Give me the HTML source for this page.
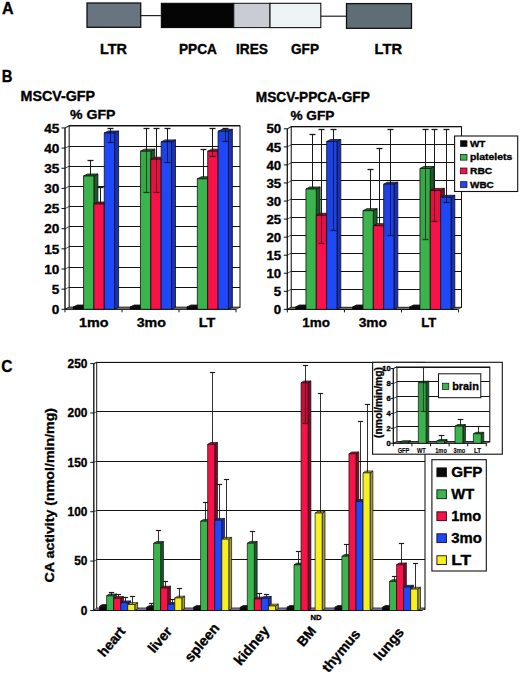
<!DOCTYPE html>
<html><head><meta charset="utf-8"><title>Figure</title>
<style>
html,body{margin:0;padding:0;background:#fff;}
body{width:520px;height:674px;overflow:hidden;}
svg{display:block;}
text{font-family:"Liberation Sans", sans-serif;stroke:#000;stroke-width:0.35px;}
</style></head>
<body>
<svg width="520" height="674" viewBox="0 0 520 674" font-family='"Liberation Sans", sans-serif'>
<rect x="0" y="0" width="520" height="674" fill="#ffffff"/>
<text x="2" y="14.3" font-size="16.5" font-weight="bold" fill="#000" textLength="11.6" lengthAdjust="spacingAndGlyphs">A</text>
<line x1="140.7" y1="15.6" x2="160.8" y2="15.6" stroke="#222" stroke-width="1.2"/>
<line x1="320.8" y1="16.2" x2="346" y2="16.2" stroke="#222" stroke-width="1.2"/>
<rect x="87" y="3" width="53.7" height="24.3" fill="#68747f" stroke="#111" stroke-width="1.3"/>
<rect x="161.3" y="3.3" width="72.5" height="24.3" fill="#050505" stroke="#000" stroke-width="1"/>
<rect x="233.8" y="3.3" width="36.2" height="24.3" fill="#c9cdd3" stroke="#111" stroke-width="1"/>
<rect x="270" y="3.3" width="50.8" height="24.3" fill="#eef3f6" stroke="#111" stroke-width="1.1"/>
<rect x="346.5" y="3.6" width="65" height="24.7" fill="#5f6e75" stroke="#111" stroke-width="1.3"/>
<text x="100" y="54.2" font-size="14" font-weight="bold" fill="#000" textLength="27" lengthAdjust="spacingAndGlyphs">LTR</text>
<text x="179" y="54.2" font-size="14" font-weight="bold" fill="#000" textLength="38" lengthAdjust="spacingAndGlyphs">PPCA</text>
<text x="236" y="54.2" font-size="14" font-weight="bold" fill="#000" textLength="32" lengthAdjust="spacingAndGlyphs">IRES</text>
<text x="291" y="54.2" font-size="14" font-weight="bold" fill="#000" textLength="28" lengthAdjust="spacingAndGlyphs">GFP</text>
<text x="374.6" y="54.2" font-size="14" font-weight="bold" fill="#000" textLength="27.4" lengthAdjust="spacingAndGlyphs">LTR</text>
<text x="1.7" y="81.7" font-size="17" font-weight="bold" fill="#000" textLength="10.7" lengthAdjust="spacingAndGlyphs">B</text>
<text x="20.5" y="101" font-size="14" font-weight="bold" fill="#000" textLength="74.5" lengthAdjust="spacingAndGlyphs">MSCV-GFP</text>
<text x="70" y="119" font-size="13.5" font-weight="bold" fill="#000" textLength="45.5" lengthAdjust="spacingAndGlyphs">% GFP</text>
<text x="255.8" y="101.5" font-size="14" font-weight="bold" fill="#000" textLength="114" lengthAdjust="spacingAndGlyphs">MSCV-PPCA-GFP</text>
<text x="290.4" y="119.5" font-size="13.5" font-weight="bold" fill="#000" textLength="44" lengthAdjust="spacingAndGlyphs">% GFP</text>
<rect x="69" y="125.95" width="171" height="181.35" fill="#ffffff" stroke="#111" stroke-width="1.05"/>
<polygon points="65,127.95 69,125.95 69,307.3 65,309.3" fill="#ffffff" stroke="#111" stroke-width="0.7" stroke-linejoin="round"/>
<line x1="69" y1="307.5" x2="240" y2="307.5" stroke="#111" stroke-width="1.05"/>
<line x1="65" y1="309.3" x2="69" y2="307.3" stroke="#111" stroke-width="0.7"/>
<line x1="61.5" y1="309.3" x2="65" y2="309.3" stroke="#111" stroke-width="1"/>
<text x="59.3" y="313.98" font-size="13" font-weight="bold" fill="#000" text-anchor="end" textLength="7.55" lengthAdjust="spacingAndGlyphs">0</text>
<line x1="69" y1="287.5" x2="240" y2="287.5" stroke="#111" stroke-width="1.05"/>
<line x1="65" y1="289.15" x2="69" y2="287.15" stroke="#111" stroke-width="0.7"/>
<line x1="61.5" y1="289.15" x2="65" y2="289.15" stroke="#111" stroke-width="1"/>
<text x="59.3" y="293.83" font-size="13" font-weight="bold" fill="#000" text-anchor="end" textLength="7.55" lengthAdjust="spacingAndGlyphs">5</text>
<line x1="69" y1="267.5" x2="240" y2="267.5" stroke="#111" stroke-width="1.05"/>
<line x1="65" y1="269" x2="69" y2="267" stroke="#111" stroke-width="0.7"/>
<line x1="61.5" y1="269" x2="65" y2="269" stroke="#111" stroke-width="1"/>
<text x="59.3" y="273.68" font-size="13" font-weight="bold" fill="#000" text-anchor="end" textLength="15.1" lengthAdjust="spacingAndGlyphs">10</text>
<line x1="69" y1="246.5" x2="240" y2="246.5" stroke="#111" stroke-width="1.05"/>
<line x1="65" y1="248.85" x2="69" y2="246.85" stroke="#111" stroke-width="0.7"/>
<line x1="61.5" y1="248.85" x2="65" y2="248.85" stroke="#111" stroke-width="1"/>
<text x="59.3" y="253.53" font-size="13" font-weight="bold" fill="#000" text-anchor="end" textLength="15.1" lengthAdjust="spacingAndGlyphs">15</text>
<line x1="69" y1="226.5" x2="240" y2="226.5" stroke="#111" stroke-width="1.05"/>
<line x1="65" y1="228.7" x2="69" y2="226.7" stroke="#111" stroke-width="0.7"/>
<line x1="61.5" y1="228.7" x2="65" y2="228.7" stroke="#111" stroke-width="1"/>
<text x="59.3" y="233.38" font-size="13" font-weight="bold" fill="#000" text-anchor="end" textLength="15.1" lengthAdjust="spacingAndGlyphs">20</text>
<line x1="69" y1="206.5" x2="240" y2="206.5" stroke="#111" stroke-width="1.05"/>
<line x1="65" y1="208.55" x2="69" y2="206.55" stroke="#111" stroke-width="0.7"/>
<line x1="61.5" y1="208.55" x2="65" y2="208.55" stroke="#111" stroke-width="1"/>
<text x="59.3" y="213.23" font-size="13" font-weight="bold" fill="#000" text-anchor="end" textLength="15.1" lengthAdjust="spacingAndGlyphs">25</text>
<line x1="69" y1="186.5" x2="240" y2="186.5" stroke="#111" stroke-width="1.05"/>
<line x1="65" y1="188.4" x2="69" y2="186.4" stroke="#111" stroke-width="0.7"/>
<line x1="61.5" y1="188.4" x2="65" y2="188.4" stroke="#111" stroke-width="1"/>
<text x="59.3" y="193.08" font-size="13" font-weight="bold" fill="#000" text-anchor="end" textLength="15.1" lengthAdjust="spacingAndGlyphs">30</text>
<line x1="69" y1="166.5" x2="240" y2="166.5" stroke="#111" stroke-width="1.05"/>
<line x1="65" y1="168.25" x2="69" y2="166.25" stroke="#111" stroke-width="0.7"/>
<line x1="61.5" y1="168.25" x2="65" y2="168.25" stroke="#111" stroke-width="1"/>
<text x="59.3" y="172.93" font-size="13" font-weight="bold" fill="#000" text-anchor="end" textLength="15.1" lengthAdjust="spacingAndGlyphs">35</text>
<line x1="69" y1="146.5" x2="240" y2="146.5" stroke="#111" stroke-width="1.05"/>
<line x1="65" y1="148.1" x2="69" y2="146.1" stroke="#111" stroke-width="0.7"/>
<line x1="61.5" y1="148.1" x2="65" y2="148.1" stroke="#111" stroke-width="1"/>
<text x="59.3" y="152.78" font-size="13" font-weight="bold" fill="#000" text-anchor="end" textLength="15.1" lengthAdjust="spacingAndGlyphs">40</text>
<line x1="69" y1="125.5" x2="240" y2="125.5" stroke="#111" stroke-width="1.05"/>
<line x1="65" y1="127.95" x2="69" y2="125.95" stroke="#111" stroke-width="0.7"/>
<line x1="61.5" y1="127.95" x2="65" y2="127.95" stroke="#111" stroke-width="1"/>
<text x="59.3" y="132.63" font-size="13" font-weight="bold" fill="#000" text-anchor="end" textLength="15.1" lengthAdjust="spacingAndGlyphs">45</text>
<polygon points="65,309.3 69,307.3 240,307.3 236,309.3" fill="#9a9a9a" stroke="#222" stroke-width="0.7" stroke-linejoin="round"/>
<line x1="65" y1="127.95" x2="65" y2="309.3" stroke="#111" stroke-width="1.1"/>
<line x1="65" y1="309.3" x2="236" y2="309.3" stroke="#111" stroke-width="1.1"/>
<line x1="65" y1="309.3" x2="65" y2="312.3" stroke="#111" stroke-width="1"/>
<line x1="122" y1="309.3" x2="122" y2="312.3" stroke="#111" stroke-width="1"/>
<line x1="179" y1="309.3" x2="179" y2="312.3" stroke="#111" stroke-width="1"/>
<line x1="236" y1="309.3" x2="236" y2="312.3" stroke="#111" stroke-width="1"/>
<polygon points="83.55,307 87.55,305 87.55,307.3 83.55,309.3" fill="#000000" stroke="#101010" stroke-width="0.8" stroke-linejoin="round"/>
<polygon points="73.2,307 77.2,305 87.55,305 83.55,307" fill="#111111" stroke="#101010" stroke-width="0.8" stroke-linejoin="round"/>
<polygon points="73.2,307 83.55,307 83.55,309.3 73.2,309.3" fill="#0a0a0a" stroke="#101010" stroke-width="0.8" stroke-linejoin="round"/>
<polygon points="93.9,176 97.9,174 97.9,307.3 93.9,309.3" fill="#1d5a28" stroke="#101010" stroke-width="0.8" stroke-linejoin="round"/>
<polygon points="83.55,176 87.55,174 97.9,174 93.9,176" fill="#247030" stroke="#101010" stroke-width="0.8" stroke-linejoin="round"/>
<polygon points="83.55,176 93.9,176 93.9,309.3 83.55,309.3" fill="#3cb44e" stroke="#101010" stroke-width="0.8" stroke-linejoin="round"/>
<polygon points="104.25,204 108.25,202 108.25,307.3 104.25,309.3" fill="#800c28" stroke="#101010" stroke-width="0.8" stroke-linejoin="round"/>
<polygon points="93.9,204 97.9,202 108.25,202 104.25,204" fill="#c0103a" stroke="#101010" stroke-width="0.8" stroke-linejoin="round"/>
<polygon points="93.9,204 104.25,204 104.25,309.3 93.9,309.3" fill="#f81249" stroke="#101010" stroke-width="0.8" stroke-linejoin="round"/>
<polygon points="114.6,133 118.6,131 118.6,307.3 114.6,309.3" fill="#1830bc" stroke="#101010" stroke-width="0.8" stroke-linejoin="round"/>
<polygon points="104.25,133 108.25,131 118.6,131 114.6,133" fill="#1a3ad0" stroke="#101010" stroke-width="0.8" stroke-linejoin="round"/>
<polygon points="104.25,133 114.6,133 114.6,309.3 104.25,309.3" fill="#1f48f8" stroke="#101010" stroke-width="0.8" stroke-linejoin="round"/>
<line x1="90.5" y1="160.5" x2="90.5" y2="175" stroke="#1a1a1a" stroke-width="1"/>
<line x1="87.5" y1="160.5" x2="93.5" y2="160.5" stroke="#1a1a1a" stroke-width="1.3"/>
<line x1="100.5" y1="187.5" x2="100.5" y2="203" stroke="#1a1a1a" stroke-width="1"/>
<line x1="97.5" y1="187.5" x2="103.5" y2="187.5" stroke="#1a1a1a" stroke-width="1.3"/>
<rect x="104.75" y="133.5" width="9.35" height="9.5" fill="#000" fill-opacity="0.07"/>
<line x1="110.5" y1="128.5" x2="110.5" y2="132" stroke="#1a1a1a" stroke-width="1"/>
<line x1="110.5" y1="132" x2="110.5" y2="142.5" stroke="#000" stroke-opacity="0.55" stroke-width="1"/>
<line x1="107.5" y1="142.5" x2="113.5" y2="142.5" stroke="#000" stroke-opacity="0.6" stroke-width="1.3"/>
<line x1="107.5" y1="128.5" x2="113.5" y2="128.5" stroke="#1a1a1a" stroke-width="1.3"/>
<polygon points="140.45,307 144.45,305 144.45,307.3 140.45,309.3" fill="#000000" stroke="#101010" stroke-width="0.8" stroke-linejoin="round"/>
<polygon points="130.1,307 134.1,305 144.45,305 140.45,307" fill="#111111" stroke="#101010" stroke-width="0.8" stroke-linejoin="round"/>
<polygon points="130.1,307 140.45,307 140.45,309.3 130.1,309.3" fill="#0a0a0a" stroke="#101010" stroke-width="0.8" stroke-linejoin="round"/>
<polygon points="150.8,151.2 154.8,149.2 154.8,307.3 150.8,309.3" fill="#1d5a28" stroke="#101010" stroke-width="0.8" stroke-linejoin="round"/>
<polygon points="140.45,151.2 144.45,149.2 154.8,149.2 150.8,151.2" fill="#247030" stroke="#101010" stroke-width="0.8" stroke-linejoin="round"/>
<polygon points="140.45,151.2 150.8,151.2 150.8,309.3 140.45,309.3" fill="#3cb44e" stroke="#101010" stroke-width="0.8" stroke-linejoin="round"/>
<polygon points="161.15,159.2 165.15,157.2 165.15,307.3 161.15,309.3" fill="#800c28" stroke="#101010" stroke-width="0.8" stroke-linejoin="round"/>
<polygon points="150.8,159.2 154.8,157.2 165.15,157.2 161.15,159.2" fill="#c0103a" stroke="#101010" stroke-width="0.8" stroke-linejoin="round"/>
<polygon points="150.8,159.2 161.15,159.2 161.15,309.3 150.8,309.3" fill="#f81249" stroke="#101010" stroke-width="0.8" stroke-linejoin="round"/>
<polygon points="171.5,141.9 175.5,139.9 175.5,307.3 171.5,309.3" fill="#1830bc" stroke="#101010" stroke-width="0.8" stroke-linejoin="round"/>
<polygon points="161.15,141.9 165.15,139.9 175.5,139.9 171.5,141.9" fill="#1a3ad0" stroke="#101010" stroke-width="0.8" stroke-linejoin="round"/>
<polygon points="161.15,141.9 171.5,141.9 171.5,309.3 161.15,309.3" fill="#1f48f8" stroke="#101010" stroke-width="0.8" stroke-linejoin="round"/>
<rect x="140.95" y="151.7" width="9.35" height="41.3" fill="#000" fill-opacity="0.07"/>
<line x1="146.5" y1="128.5" x2="146.5" y2="150.2" stroke="#1a1a1a" stroke-width="1"/>
<line x1="146.5" y1="150.2" x2="146.5" y2="192.5" stroke="#000" stroke-opacity="0.55" stroke-width="1"/>
<line x1="143.5" y1="192.5" x2="149.5" y2="192.5" stroke="#000" stroke-opacity="0.6" stroke-width="1.3"/>
<line x1="143.5" y1="128.5" x2="149.5" y2="128.5" stroke="#1a1a1a" stroke-width="1.3"/>
<rect x="151.3" y="159.7" width="9.35" height="33.3" fill="#000" fill-opacity="0.07"/>
<line x1="156.5" y1="128.5" x2="156.5" y2="158.2" stroke="#1a1a1a" stroke-width="1"/>
<line x1="156.5" y1="158.2" x2="156.5" y2="192.5" stroke="#000" stroke-opacity="0.55" stroke-width="1"/>
<line x1="153.5" y1="192.5" x2="159.5" y2="192.5" stroke="#000" stroke-opacity="0.6" stroke-width="1.3"/>
<line x1="153.5" y1="128.5" x2="159.5" y2="128.5" stroke="#1a1a1a" stroke-width="1.3"/>
<rect x="161.65" y="142.4" width="9.35" height="21.3" fill="#000" fill-opacity="0.07"/>
<line x1="167.5" y1="128.5" x2="167.5" y2="140.9" stroke="#1a1a1a" stroke-width="1"/>
<line x1="167.5" y1="140.9" x2="167.5" y2="162.5" stroke="#000" stroke-opacity="0.55" stroke-width="1"/>
<line x1="164.5" y1="162.5" x2="170.5" y2="162.5" stroke="#000" stroke-opacity="0.6" stroke-width="1.3"/>
<line x1="164.5" y1="128.5" x2="170.5" y2="128.5" stroke="#1a1a1a" stroke-width="1.3"/>
<polygon points="197.35,307 201.35,305 201.35,307.3 197.35,309.3" fill="#000000" stroke="#101010" stroke-width="0.8" stroke-linejoin="round"/>
<polygon points="187,307 191,305 201.35,305 197.35,307" fill="#111111" stroke="#101010" stroke-width="0.8" stroke-linejoin="round"/>
<polygon points="187,307 197.35,307 197.35,309.3 187,309.3" fill="#0a0a0a" stroke="#101010" stroke-width="0.8" stroke-linejoin="round"/>
<polygon points="207.7,178.8 211.7,176.8 211.7,307.3 207.7,309.3" fill="#1d5a28" stroke="#101010" stroke-width="0.8" stroke-linejoin="round"/>
<polygon points="197.35,178.8 201.35,176.8 211.7,176.8 207.7,178.8" fill="#247030" stroke="#101010" stroke-width="0.8" stroke-linejoin="round"/>
<polygon points="197.35,178.8 207.7,178.8 207.7,309.3 197.35,309.3" fill="#3cb44e" stroke="#101010" stroke-width="0.8" stroke-linejoin="round"/>
<polygon points="218.05,151.2 222.05,149.2 222.05,307.3 218.05,309.3" fill="#800c28" stroke="#101010" stroke-width="0.8" stroke-linejoin="round"/>
<polygon points="207.7,151.2 211.7,149.2 222.05,149.2 218.05,151.2" fill="#c0103a" stroke="#101010" stroke-width="0.8" stroke-linejoin="round"/>
<polygon points="207.7,151.2 218.05,151.2 218.05,309.3 207.7,309.3" fill="#f81249" stroke="#101010" stroke-width="0.8" stroke-linejoin="round"/>
<polygon points="228.4,131.3 232.4,129.3 232.4,307.3 228.4,309.3" fill="#1830bc" stroke="#101010" stroke-width="0.8" stroke-linejoin="round"/>
<polygon points="218.05,131.3 222.05,129.3 232.4,129.3 228.4,131.3" fill="#1a3ad0" stroke="#101010" stroke-width="0.8" stroke-linejoin="round"/>
<polygon points="218.05,131.3 228.4,131.3 228.4,309.3 218.05,309.3" fill="#1f48f8" stroke="#101010" stroke-width="0.8" stroke-linejoin="round"/>
<line x1="203.5" y1="149.5" x2="203.5" y2="177.8" stroke="#1a1a1a" stroke-width="1"/>
<line x1="200.5" y1="149.5" x2="206.5" y2="149.5" stroke="#1a1a1a" stroke-width="1.3"/>
<rect x="208.2" y="151.7" width="9.35" height="5.8" fill="#000" fill-opacity="0.07"/>
<line x1="212.5" y1="128.5" x2="212.5" y2="150.2" stroke="#1a1a1a" stroke-width="1"/>
<line x1="212.5" y1="150.2" x2="212.5" y2="156.5" stroke="#000" stroke-opacity="0.55" stroke-width="1"/>
<line x1="209.5" y1="156.5" x2="215.5" y2="156.5" stroke="#000" stroke-opacity="0.6" stroke-width="1.3"/>
<line x1="209.5" y1="128.5" x2="215.5" y2="128.5" stroke="#1a1a1a" stroke-width="1.3"/>
<rect x="218.55" y="131.8" width="9.35" height="10.4" fill="#000" fill-opacity="0.07"/>
<line x1="225.5" y1="128.5" x2="225.5" y2="130.3" stroke="#1a1a1a" stroke-width="1"/>
<line x1="225.5" y1="130.3" x2="225.5" y2="141.5" stroke="#000" stroke-opacity="0.55" stroke-width="1"/>
<line x1="222.5" y1="141.5" x2="228.5" y2="141.5" stroke="#000" stroke-opacity="0.6" stroke-width="1.3"/>
<line x1="222.5" y1="128.5" x2="228.5" y2="128.5" stroke="#1a1a1a" stroke-width="1.3"/>
<text x="79" y="326.7" font-size="13" font-weight="bold" fill="#000" textLength="29.5" lengthAdjust="spacingAndGlyphs">1mo</text>
<text x="136.7" y="326.7" font-size="13" font-weight="bold" fill="#000" textLength="29.3" lengthAdjust="spacingAndGlyphs">3mo</text>
<text x="198.8" y="326.7" font-size="13" font-weight="bold" fill="#000" textLength="16.5" lengthAdjust="spacingAndGlyphs">LT</text>
<rect x="291.1" y="126.8" width="170.4" height="180.6" fill="#ffffff" stroke="#111" stroke-width="1.05"/>
<polygon points="287.3,128.8 291.1,126.8 291.1,307.4 287.3,309.4" fill="#ffffff" stroke="#111" stroke-width="0.7" stroke-linejoin="round"/>
<line x1="291.1" y1="307.5" x2="461.5" y2="307.5" stroke="#111" stroke-width="1.05"/>
<line x1="287.3" y1="309.4" x2="291.1" y2="307.4" stroke="#111" stroke-width="0.7"/>
<line x1="283.8" y1="309.4" x2="287.3" y2="309.4" stroke="#111" stroke-width="1"/>
<text x="281.2" y="314.08" font-size="13" font-weight="bold" fill="#000" text-anchor="end" textLength="7.4" lengthAdjust="spacingAndGlyphs">0</text>
<line x1="291.1" y1="289.5" x2="461.5" y2="289.5" stroke="#111" stroke-width="1.05"/>
<line x1="287.3" y1="291.34" x2="291.1" y2="289.34" stroke="#111" stroke-width="0.7"/>
<line x1="283.8" y1="291.34" x2="287.3" y2="291.34" stroke="#111" stroke-width="1"/>
<text x="281.2" y="296.02" font-size="13" font-weight="bold" fill="#000" text-anchor="end" textLength="7.4" lengthAdjust="spacingAndGlyphs">5</text>
<line x1="291.1" y1="271.5" x2="461.5" y2="271.5" stroke="#111" stroke-width="1.05"/>
<line x1="287.3" y1="273.28" x2="291.1" y2="271.28" stroke="#111" stroke-width="0.7"/>
<line x1="283.8" y1="273.28" x2="287.3" y2="273.28" stroke="#111" stroke-width="1"/>
<text x="281.2" y="277.96" font-size="13" font-weight="bold" fill="#000" text-anchor="end" textLength="14.8" lengthAdjust="spacingAndGlyphs">10</text>
<line x1="291.1" y1="253.5" x2="461.5" y2="253.5" stroke="#111" stroke-width="1.05"/>
<line x1="287.3" y1="255.22" x2="291.1" y2="253.22" stroke="#111" stroke-width="0.7"/>
<line x1="283.8" y1="255.22" x2="287.3" y2="255.22" stroke="#111" stroke-width="1"/>
<text x="281.2" y="259.9" font-size="13" font-weight="bold" fill="#000" text-anchor="end" textLength="14.8" lengthAdjust="spacingAndGlyphs">15</text>
<line x1="291.1" y1="235.5" x2="461.5" y2="235.5" stroke="#111" stroke-width="1.05"/>
<line x1="287.3" y1="237.16" x2="291.1" y2="235.16" stroke="#111" stroke-width="0.7"/>
<line x1="283.8" y1="237.16" x2="287.3" y2="237.16" stroke="#111" stroke-width="1"/>
<text x="281.2" y="241.84" font-size="13" font-weight="bold" fill="#000" text-anchor="end" textLength="14.8" lengthAdjust="spacingAndGlyphs">20</text>
<line x1="291.1" y1="217.5" x2="461.5" y2="217.5" stroke="#111" stroke-width="1.05"/>
<line x1="287.3" y1="219.1" x2="291.1" y2="217.1" stroke="#111" stroke-width="0.7"/>
<line x1="283.8" y1="219.1" x2="287.3" y2="219.1" stroke="#111" stroke-width="1"/>
<text x="281.2" y="223.78" font-size="13" font-weight="bold" fill="#000" text-anchor="end" textLength="14.8" lengthAdjust="spacingAndGlyphs">25</text>
<line x1="291.1" y1="199.5" x2="461.5" y2="199.5" stroke="#111" stroke-width="1.05"/>
<line x1="287.3" y1="201.04" x2="291.1" y2="199.04" stroke="#111" stroke-width="0.7"/>
<line x1="283.8" y1="201.04" x2="287.3" y2="201.04" stroke="#111" stroke-width="1"/>
<text x="281.2" y="205.72" font-size="13" font-weight="bold" fill="#000" text-anchor="end" textLength="14.8" lengthAdjust="spacingAndGlyphs">30</text>
<line x1="291.1" y1="180.5" x2="461.5" y2="180.5" stroke="#111" stroke-width="1.05"/>
<line x1="287.3" y1="182.98" x2="291.1" y2="180.98" stroke="#111" stroke-width="0.7"/>
<line x1="283.8" y1="182.98" x2="287.3" y2="182.98" stroke="#111" stroke-width="1"/>
<text x="281.2" y="187.66" font-size="13" font-weight="bold" fill="#000" text-anchor="end" textLength="14.8" lengthAdjust="spacingAndGlyphs">35</text>
<line x1="291.1" y1="162.5" x2="461.5" y2="162.5" stroke="#111" stroke-width="1.05"/>
<line x1="287.3" y1="164.92" x2="291.1" y2="162.92" stroke="#111" stroke-width="0.7"/>
<line x1="283.8" y1="164.92" x2="287.3" y2="164.92" stroke="#111" stroke-width="1"/>
<text x="281.2" y="169.6" font-size="13" font-weight="bold" fill="#000" text-anchor="end" textLength="14.8" lengthAdjust="spacingAndGlyphs">40</text>
<line x1="291.1" y1="144.5" x2="461.5" y2="144.5" stroke="#111" stroke-width="1.05"/>
<line x1="287.3" y1="146.86" x2="291.1" y2="144.86" stroke="#111" stroke-width="0.7"/>
<line x1="283.8" y1="146.86" x2="287.3" y2="146.86" stroke="#111" stroke-width="1"/>
<text x="281.2" y="151.54" font-size="13" font-weight="bold" fill="#000" text-anchor="end" textLength="14.8" lengthAdjust="spacingAndGlyphs">45</text>
<line x1="291.1" y1="126.5" x2="461.5" y2="126.5" stroke="#111" stroke-width="1.05"/>
<line x1="287.3" y1="128.8" x2="291.1" y2="126.8" stroke="#111" stroke-width="0.7"/>
<line x1="283.8" y1="128.8" x2="287.3" y2="128.8" stroke="#111" stroke-width="1"/>
<text x="281.2" y="133.48" font-size="13" font-weight="bold" fill="#000" text-anchor="end" textLength="14.8" lengthAdjust="spacingAndGlyphs">50</text>
<polygon points="287.3,309.4 291.1,307.4 461.5,307.4 457.7,309.4" fill="#9a9a9a" stroke="#222" stroke-width="0.7" stroke-linejoin="round"/>
<line x1="287.3" y1="128.8" x2="287.3" y2="309.4" stroke="#111" stroke-width="1.1"/>
<line x1="287.3" y1="309.4" x2="457.7" y2="309.4" stroke="#111" stroke-width="1.1"/>
<line x1="287.3" y1="309.4" x2="287.3" y2="312.4" stroke="#111" stroke-width="1"/>
<line x1="344.4" y1="309.4" x2="344.4" y2="312.4" stroke="#111" stroke-width="1"/>
<line x1="401.5" y1="309.4" x2="401.5" y2="312.4" stroke="#111" stroke-width="1"/>
<line x1="458.6" y1="309.4" x2="458.6" y2="312.4" stroke="#111" stroke-width="1"/>
<polygon points="305.95,307 309.75,305 309.75,307.4 305.95,309.4" fill="#000000" stroke="#101010" stroke-width="0.8" stroke-linejoin="round"/>
<polygon points="295.6,307 299.4,305 309.75,305 305.95,307" fill="#111111" stroke="#101010" stroke-width="0.8" stroke-linejoin="round"/>
<polygon points="295.6,307 305.95,307 305.95,309.4 295.6,309.4" fill="#0a0a0a" stroke="#101010" stroke-width="0.8" stroke-linejoin="round"/>
<polygon points="316.3,189 320.1,187 320.1,307.4 316.3,309.4" fill="#1d5a28" stroke="#101010" stroke-width="0.8" stroke-linejoin="round"/>
<polygon points="305.95,189 309.75,187 320.1,187 316.3,189" fill="#247030" stroke="#101010" stroke-width="0.8" stroke-linejoin="round"/>
<polygon points="305.95,189 316.3,189 316.3,309.4 305.95,309.4" fill="#3cb44e" stroke="#101010" stroke-width="0.8" stroke-linejoin="round"/>
<polygon points="326.65,215.3 330.45,213.3 330.45,307.4 326.65,309.4" fill="#800c28" stroke="#101010" stroke-width="0.8" stroke-linejoin="round"/>
<polygon points="316.3,215.3 320.1,213.3 330.45,213.3 326.65,215.3" fill="#c0103a" stroke="#101010" stroke-width="0.8" stroke-linejoin="round"/>
<polygon points="316.3,215.3 326.65,215.3 326.65,309.4 316.3,309.4" fill="#f81249" stroke="#101010" stroke-width="0.8" stroke-linejoin="round"/>
<polygon points="337,141.5 340.8,139.5 340.8,307.4 337,309.4" fill="#1830bc" stroke="#101010" stroke-width="0.8" stroke-linejoin="round"/>
<polygon points="326.65,141.5 330.45,139.5 340.8,139.5 337,141.5" fill="#1a3ad0" stroke="#101010" stroke-width="0.8" stroke-linejoin="round"/>
<polygon points="326.65,141.5 337,141.5 337,309.4 326.65,309.4" fill="#1f48f8" stroke="#101010" stroke-width="0.8" stroke-linejoin="round"/>
<line x1="312.5" y1="134.5" x2="312.5" y2="188" stroke="#1a1a1a" stroke-width="1"/>
<line x1="309.5" y1="134.5" x2="315.5" y2="134.5" stroke="#1a1a1a" stroke-width="1.3"/>
<rect x="316.8" y="215.8" width="9.35" height="28.4" fill="#000" fill-opacity="0.07"/>
<line x1="321.5" y1="129.5" x2="321.5" y2="214.3" stroke="#1a1a1a" stroke-width="1"/>
<line x1="321.5" y1="214.3" x2="321.5" y2="243.5" stroke="#000" stroke-opacity="0.55" stroke-width="1"/>
<line x1="318.5" y1="243.5" x2="324.5" y2="243.5" stroke="#000" stroke-opacity="0.6" stroke-width="1.3"/>
<line x1="318.5" y1="129.5" x2="324.5" y2="129.5" stroke="#1a1a1a" stroke-width="1.3"/>
<rect x="327.15" y="142" width="9.35" height="89" fill="#000" fill-opacity="0.07"/>
<line x1="333.5" y1="129.5" x2="333.5" y2="140.5" stroke="#1a1a1a" stroke-width="1"/>
<line x1="333.5" y1="140.5" x2="333.5" y2="230.5" stroke="#000" stroke-opacity="0.55" stroke-width="1"/>
<line x1="330.5" y1="230.5" x2="336.5" y2="230.5" stroke="#000" stroke-opacity="0.6" stroke-width="1.3"/>
<line x1="330.5" y1="129.5" x2="336.5" y2="129.5" stroke="#1a1a1a" stroke-width="1.3"/>
<polygon points="362.95,307 366.75,305 366.75,307.4 362.95,309.4" fill="#000000" stroke="#101010" stroke-width="0.8" stroke-linejoin="round"/>
<polygon points="352.6,307 356.4,305 366.75,305 362.95,307" fill="#111111" stroke="#101010" stroke-width="0.8" stroke-linejoin="round"/>
<polygon points="352.6,307 362.95,307 362.95,309.4 352.6,309.4" fill="#0a0a0a" stroke="#101010" stroke-width="0.8" stroke-linejoin="round"/>
<polygon points="373.3,210.7 377.1,208.7 377.1,307.4 373.3,309.4" fill="#1d5a28" stroke="#101010" stroke-width="0.8" stroke-linejoin="round"/>
<polygon points="362.95,210.7 366.75,208.7 377.1,208.7 373.3,210.7" fill="#247030" stroke="#101010" stroke-width="0.8" stroke-linejoin="round"/>
<polygon points="362.95,210.7 373.3,210.7 373.3,309.4 362.95,309.4" fill="#3cb44e" stroke="#101010" stroke-width="0.8" stroke-linejoin="round"/>
<polygon points="383.65,225.7 387.45,223.7 387.45,307.4 383.65,309.4" fill="#800c28" stroke="#101010" stroke-width="0.8" stroke-linejoin="round"/>
<polygon points="373.3,225.7 377.1,223.7 387.45,223.7 383.65,225.7" fill="#c0103a" stroke="#101010" stroke-width="0.8" stroke-linejoin="round"/>
<polygon points="373.3,225.7 383.65,225.7 383.65,309.4 373.3,309.4" fill="#f81249" stroke="#101010" stroke-width="0.8" stroke-linejoin="round"/>
<polygon points="394,184.2 397.8,182.2 397.8,307.4 394,309.4" fill="#1830bc" stroke="#101010" stroke-width="0.8" stroke-linejoin="round"/>
<polygon points="383.65,184.2 387.45,182.2 397.8,182.2 394,184.2" fill="#1a3ad0" stroke="#101010" stroke-width="0.8" stroke-linejoin="round"/>
<polygon points="383.65,184.2 394,184.2 394,309.4 383.65,309.4" fill="#1f48f8" stroke="#101010" stroke-width="0.8" stroke-linejoin="round"/>
<line x1="370.5" y1="169.5" x2="370.5" y2="209.7" stroke="#1a1a1a" stroke-width="1"/>
<line x1="367.5" y1="169.5" x2="373.5" y2="169.5" stroke="#1a1a1a" stroke-width="1.3"/>
<line x1="379.5" y1="148.5" x2="379.5" y2="224.7" stroke="#1a1a1a" stroke-width="1"/>
<line x1="376.5" y1="148.5" x2="382.5" y2="148.5" stroke="#1a1a1a" stroke-width="1.3"/>
<rect x="384.15" y="184.7" width="9.35" height="51.7" fill="#000" fill-opacity="0.07"/>
<line x1="390.5" y1="129.5" x2="390.5" y2="183.2" stroke="#1a1a1a" stroke-width="1"/>
<line x1="390.5" y1="183.2" x2="390.5" y2="235.5" stroke="#000" stroke-opacity="0.55" stroke-width="1"/>
<line x1="387.5" y1="235.5" x2="393.5" y2="235.5" stroke="#000" stroke-opacity="0.6" stroke-width="1.3"/>
<line x1="387.5" y1="129.5" x2="393.5" y2="129.5" stroke="#1a1a1a" stroke-width="1.3"/>
<polygon points="419.95,307 423.75,305 423.75,307.4 419.95,309.4" fill="#000000" stroke="#101010" stroke-width="0.8" stroke-linejoin="round"/>
<polygon points="409.6,307 413.4,305 423.75,305 419.95,307" fill="#111111" stroke="#101010" stroke-width="0.8" stroke-linejoin="round"/>
<polygon points="409.6,307 419.95,307 419.95,309.4 409.6,309.4" fill="#0a0a0a" stroke="#101010" stroke-width="0.8" stroke-linejoin="round"/>
<polygon points="430.3,168.5 434.1,166.5 434.1,307.4 430.3,309.4" fill="#1d5a28" stroke="#101010" stroke-width="0.8" stroke-linejoin="round"/>
<polygon points="419.95,168.5 423.75,166.5 434.1,166.5 430.3,168.5" fill="#247030" stroke="#101010" stroke-width="0.8" stroke-linejoin="round"/>
<polygon points="419.95,168.5 430.3,168.5 430.3,309.4 419.95,309.4" fill="#3cb44e" stroke="#101010" stroke-width="0.8" stroke-linejoin="round"/>
<polygon points="440.65,190.4 444.45,188.4 444.45,307.4 440.65,309.4" fill="#800c28" stroke="#101010" stroke-width="0.8" stroke-linejoin="round"/>
<polygon points="430.3,190.4 434.1,188.4 444.45,188.4 440.65,190.4" fill="#c0103a" stroke="#101010" stroke-width="0.8" stroke-linejoin="round"/>
<polygon points="430.3,190.4 440.65,190.4 440.65,309.4 430.3,309.4" fill="#f81249" stroke="#101010" stroke-width="0.8" stroke-linejoin="round"/>
<polygon points="451,197.3 454.8,195.3 454.8,307.4 451,309.4" fill="#1830bc" stroke="#101010" stroke-width="0.8" stroke-linejoin="round"/>
<polygon points="440.65,197.3 444.45,195.3 454.8,195.3 451,197.3" fill="#1a3ad0" stroke="#101010" stroke-width="0.8" stroke-linejoin="round"/>
<polygon points="440.65,197.3 451,197.3 451,309.4 440.65,309.4" fill="#1f48f8" stroke="#101010" stroke-width="0.8" stroke-linejoin="round"/>
<rect x="420.45" y="169" width="9.35" height="71.5" fill="#000" fill-opacity="0.07"/>
<line x1="425.5" y1="129.5" x2="425.5" y2="167.5" stroke="#1a1a1a" stroke-width="1"/>
<line x1="425.5" y1="167.5" x2="425.5" y2="239.5" stroke="#000" stroke-opacity="0.55" stroke-width="1"/>
<line x1="422.5" y1="239.5" x2="428.5" y2="239.5" stroke="#000" stroke-opacity="0.6" stroke-width="1.3"/>
<line x1="422.5" y1="129.5" x2="428.5" y2="129.5" stroke="#1a1a1a" stroke-width="1.3"/>
<rect x="430.8" y="190.9" width="9.35" height="31.1" fill="#000" fill-opacity="0.07"/>
<line x1="434.5" y1="129.5" x2="434.5" y2="189.4" stroke="#1a1a1a" stroke-width="1"/>
<line x1="434.5" y1="189.4" x2="434.5" y2="221.5" stroke="#000" stroke-opacity="0.55" stroke-width="1"/>
<line x1="431.5" y1="221.5" x2="437.5" y2="221.5" stroke="#000" stroke-opacity="0.6" stroke-width="1.3"/>
<line x1="431.5" y1="129.5" x2="437.5" y2="129.5" stroke="#1a1a1a" stroke-width="1.3"/>
<rect x="441.15" y="197.8" width="9.35" height="5.2" fill="#000" fill-opacity="0.07"/>
<line x1="446.5" y1="129.5" x2="446.5" y2="196.3" stroke="#1a1a1a" stroke-width="1"/>
<line x1="446.5" y1="196.3" x2="446.5" y2="202.5" stroke="#000" stroke-opacity="0.55" stroke-width="1"/>
<line x1="443.5" y1="202.5" x2="449.5" y2="202.5" stroke="#000" stroke-opacity="0.6" stroke-width="1.3"/>
<line x1="443.5" y1="129.5" x2="449.5" y2="129.5" stroke="#1a1a1a" stroke-width="1.3"/>
<text x="302.3" y="326.7" font-size="13" font-weight="bold" fill="#000" textLength="27.7" lengthAdjust="spacingAndGlyphs">1mo</text>
<text x="358.7" y="326.7" font-size="13" font-weight="bold" fill="#000" textLength="28.3" lengthAdjust="spacingAndGlyphs">3mo</text>
<text x="421.2" y="326.7" font-size="13" font-weight="bold" fill="#000" textLength="15" lengthAdjust="spacingAndGlyphs">LT</text>
<rect x="454.6" y="136" width="63.1" height="55.5" fill="#ffffff" stroke="#111" stroke-width="1.1"/>
<rect x="460.5" y="140.7" width="6.5" height="5.8" fill="#0a0a0a" stroke="#111" stroke-width="0.7"/>
<text x="470" y="146.7" font-size="9.5" font-weight="bold" fill="#000" textLength="15.4" lengthAdjust="spacingAndGlyphs">WT</text>
<rect x="460.5" y="154.35" width="6.5" height="5.8" fill="#3cb44e" stroke="#111" stroke-width="0.7"/>
<text x="470" y="160.35" font-size="9.5" font-weight="bold" fill="#000" textLength="42.3" lengthAdjust="spacingAndGlyphs">platelets</text>
<rect x="460.5" y="168" width="6.5" height="5.8" fill="#f81249" stroke="#111" stroke-width="0.7"/>
<text x="470" y="174" font-size="9.5" font-weight="bold" fill="#000" textLength="22.3" lengthAdjust="spacingAndGlyphs">RBC</text>
<rect x="460.5" y="181.65" width="6.5" height="5.8" fill="#1f48f8" stroke="#111" stroke-width="0.7"/>
<text x="470" y="187.65" font-size="9.5" font-weight="bold" fill="#000" textLength="23.8" lengthAdjust="spacingAndGlyphs">WBC</text>
<text x="1.2" y="371.9" font-size="17" font-weight="bold" fill="#000" textLength="11.2" lengthAdjust="spacingAndGlyphs">C</text>
<rect x="96.6" y="362.4" width="328.4" height="246.9" fill="#ffffff" stroke="#111" stroke-width="1.05"/>
<polygon points="93.8,363.6 96.6,362.4 96.6,609.3 93.8,610.5" fill="#ffffff" stroke="#111" stroke-width="0.7" stroke-linejoin="round"/>
<line x1="96.6" y1="609.5" x2="425" y2="609.5" stroke="#111" stroke-width="1.05"/>
<line x1="93.8" y1="610.5" x2="96.6" y2="609.3" stroke="#111" stroke-width="0.7"/>
<line x1="90.3" y1="610.5" x2="93.8" y2="610.5" stroke="#111" stroke-width="1"/>
<text x="87.4" y="614.82" font-size="12" font-weight="bold" fill="#000" text-anchor="end" textLength="6.6" lengthAdjust="spacingAndGlyphs">0</text>
<line x1="96.6" y1="559.5" x2="425" y2="559.5" stroke="#111" stroke-width="1.05"/>
<line x1="93.8" y1="561.12" x2="96.6" y2="559.92" stroke="#111" stroke-width="0.7"/>
<line x1="90.3" y1="561.12" x2="93.8" y2="561.12" stroke="#111" stroke-width="1"/>
<text x="87.4" y="565.44" font-size="12" font-weight="bold" fill="#000" text-anchor="end" textLength="13.2" lengthAdjust="spacingAndGlyphs">50</text>
<line x1="96.6" y1="510.5" x2="425" y2="510.5" stroke="#111" stroke-width="1.05"/>
<line x1="93.8" y1="511.74" x2="96.6" y2="510.54" stroke="#111" stroke-width="0.7"/>
<line x1="90.3" y1="511.74" x2="93.8" y2="511.74" stroke="#111" stroke-width="1"/>
<text x="87.4" y="516.06" font-size="12" font-weight="bold" fill="#000" text-anchor="end" textLength="19.8" lengthAdjust="spacingAndGlyphs">100</text>
<line x1="96.6" y1="461.5" x2="425" y2="461.5" stroke="#111" stroke-width="1.05"/>
<line x1="93.8" y1="462.36" x2="96.6" y2="461.16" stroke="#111" stroke-width="0.7"/>
<line x1="90.3" y1="462.36" x2="93.8" y2="462.36" stroke="#111" stroke-width="1"/>
<text x="87.4" y="466.68" font-size="12" font-weight="bold" fill="#000" text-anchor="end" textLength="19.8" lengthAdjust="spacingAndGlyphs">150</text>
<line x1="96.6" y1="411.5" x2="425" y2="411.5" stroke="#111" stroke-width="1.05"/>
<line x1="93.8" y1="412.98" x2="96.6" y2="411.78" stroke="#111" stroke-width="0.7"/>
<line x1="90.3" y1="412.98" x2="93.8" y2="412.98" stroke="#111" stroke-width="1"/>
<text x="87.4" y="417.3" font-size="12" font-weight="bold" fill="#000" text-anchor="end" textLength="19.8" lengthAdjust="spacingAndGlyphs">200</text>
<line x1="96.6" y1="362.5" x2="425" y2="362.5" stroke="#111" stroke-width="1.05"/>
<line x1="93.8" y1="363.6" x2="96.6" y2="362.4" stroke="#111" stroke-width="0.7"/>
<line x1="90.3" y1="363.6" x2="93.8" y2="363.6" stroke="#111" stroke-width="1"/>
<text x="87.4" y="367.92" font-size="12" font-weight="bold" fill="#000" text-anchor="end" textLength="19.8" lengthAdjust="spacingAndGlyphs">250</text>
<polygon points="93.8,610.5 96.6,607.9 425,607.9 422.2,610.5" fill="#77708f" stroke="#222" stroke-width="0.7" stroke-linejoin="round"/>
<line x1="93.8" y1="363.6" x2="93.8" y2="610.5" stroke="#111" stroke-width="1.1"/>
<line x1="93.8" y1="610.5" x2="422.2" y2="610.5" stroke="#111" stroke-width="1.1"/>
<text x="53.9" y="582.4" font-size="13.5" font-weight="bold" fill="#000" textLength="174.5" lengthAdjust="spacingAndGlyphs" transform="rotate(-90 53.9 582.4)">CA activity (nmol/min/mg)</text>
<polygon points="106.6,606.36 109.4,604.56 109.4,608.7 106.6,610.5" fill="#000000" stroke="#101010" stroke-width="0.7" stroke-linejoin="round"/>
<polygon points="99.55,606.36 102.35,604.56 109.4,604.56 106.6,606.36" fill="#111111" stroke="#101010" stroke-width="0.7" stroke-linejoin="round"/>
<polygon points="99.55,606.36 106.6,606.36 106.6,610.5 99.55,610.5" fill="#0a0a0a" stroke="#101010" stroke-width="0.7" stroke-linejoin="round"/>
<polygon points="113.65,595.79 116.45,593.99 116.45,608.7 113.65,610.5" fill="#1d5a28" stroke="#101010" stroke-width="0.7" stroke-linejoin="round"/>
<polygon points="106.6,595.79 109.4,593.99 116.45,593.99 113.65,595.79" fill="#247030" stroke="#101010" stroke-width="0.7" stroke-linejoin="round"/>
<polygon points="106.6,595.79 113.65,595.79 113.65,610.5 106.6,610.5" fill="#3cb44e" stroke="#101010" stroke-width="0.7" stroke-linejoin="round"/>
<polygon points="120.7,598.36 123.5,596.56 123.5,608.7 120.7,610.5" fill="#800c28" stroke="#101010" stroke-width="0.7" stroke-linejoin="round"/>
<polygon points="113.65,598.36 116.45,596.56 123.5,596.56 120.7,598.36" fill="#c0103a" stroke="#101010" stroke-width="0.7" stroke-linejoin="round"/>
<polygon points="113.65,598.36 120.7,598.36 120.7,610.5 113.65,610.5" fill="#f81249" stroke="#101010" stroke-width="0.7" stroke-linejoin="round"/>
<polygon points="127.75,602.7 130.55,600.9 130.55,608.7 127.75,610.5" fill="#1830bc" stroke="#101010" stroke-width="0.7" stroke-linejoin="round"/>
<polygon points="120.7,602.7 123.5,600.9 130.55,600.9 127.75,602.7" fill="#1a3ad0" stroke="#101010" stroke-width="0.7" stroke-linejoin="round"/>
<polygon points="120.7,602.7 127.75,602.7 127.75,610.5 120.7,610.5" fill="#1f48f8" stroke="#101010" stroke-width="0.7" stroke-linejoin="round"/>
<polygon points="134.8,604.48 137.6,602.68 137.6,608.7 134.8,610.5" fill="#9d9c3c" stroke="#101010" stroke-width="0.7" stroke-linejoin="round"/>
<polygon points="127.75,604.48 130.55,602.68 137.6,602.68 134.8,604.48" fill="#c8c42a" stroke="#101010" stroke-width="0.7" stroke-linejoin="round"/>
<polygon points="127.75,604.48 134.8,604.48 134.8,610.5 127.75,610.5" fill="#f6f020" stroke="#101010" stroke-width="0.7" stroke-linejoin="round"/>
<line x1="111.5" y1="592.5" x2="111.5" y2="595.19" stroke="#1a1a1a" stroke-width="0.9"/>
<line x1="108.9" y1="592.5" x2="114.1" y2="592.5" stroke="#1a1a1a" stroke-width="1.17"/>
<line x1="118.5" y1="594.5" x2="118.5" y2="597.76" stroke="#1a1a1a" stroke-width="0.9"/>
<line x1="115.9" y1="594.5" x2="121.1" y2="594.5" stroke="#1a1a1a" stroke-width="1.17"/>
<line x1="125.5" y1="597.5" x2="125.5" y2="602.1" stroke="#1a1a1a" stroke-width="0.9"/>
<line x1="122.9" y1="597.5" x2="128.1" y2="597.5" stroke="#1a1a1a" stroke-width="1.17"/>
<line x1="132.5" y1="596.5" x2="132.5" y2="603.88" stroke="#1a1a1a" stroke-width="0.9"/>
<line x1="129.9" y1="596.5" x2="135.1" y2="596.5" stroke="#1a1a1a" stroke-width="1.17"/>
<polygon points="153.6,607.34 156.4,605.54 156.4,608.7 153.6,610.5" fill="#000000" stroke="#101010" stroke-width="0.7" stroke-linejoin="round"/>
<polygon points="146.55,607.34 149.35,605.54 156.4,605.54 153.6,607.34" fill="#111111" stroke="#101010" stroke-width="0.7" stroke-linejoin="round"/>
<polygon points="146.55,607.34 153.6,607.34 153.6,610.5 146.55,610.5" fill="#0a0a0a" stroke="#101010" stroke-width="0.7" stroke-linejoin="round"/>
<polygon points="160.65,543.35 163.45,541.55 163.45,608.7 160.65,610.5" fill="#1d5a28" stroke="#101010" stroke-width="0.7" stroke-linejoin="round"/>
<polygon points="153.6,543.35 156.4,541.55 163.45,541.55 160.65,543.35" fill="#247030" stroke="#101010" stroke-width="0.7" stroke-linejoin="round"/>
<polygon points="153.6,543.35 160.65,543.35 160.65,610.5 153.6,610.5" fill="#3cb44e" stroke="#101010" stroke-width="0.7" stroke-linejoin="round"/>
<polygon points="167.7,587.99 170.5,586.19 170.5,608.7 167.7,610.5" fill="#800c28" stroke="#101010" stroke-width="0.7" stroke-linejoin="round"/>
<polygon points="160.65,587.99 163.45,586.19 170.5,586.19 167.7,587.99" fill="#c0103a" stroke="#101010" stroke-width="0.7" stroke-linejoin="round"/>
<polygon points="160.65,587.99 167.7,587.99 167.7,610.5 160.65,610.5" fill="#f81249" stroke="#101010" stroke-width="0.7" stroke-linejoin="round"/>
<polygon points="174.75,604.28 177.55,602.48 177.55,608.7 174.75,610.5" fill="#1830bc" stroke="#101010" stroke-width="0.7" stroke-linejoin="round"/>
<polygon points="167.7,604.28 170.5,602.48 177.55,602.48 174.75,604.28" fill="#1a3ad0" stroke="#101010" stroke-width="0.7" stroke-linejoin="round"/>
<polygon points="167.7,604.28 174.75,604.28 174.75,610.5 167.7,610.5" fill="#1f48f8" stroke="#101010" stroke-width="0.7" stroke-linejoin="round"/>
<polygon points="181.8,597.96 184.6,596.16 184.6,608.7 181.8,610.5" fill="#9d9c3c" stroke="#101010" stroke-width="0.7" stroke-linejoin="round"/>
<polygon points="174.75,597.96 177.55,596.16 184.6,596.16 181.8,597.96" fill="#c8c42a" stroke="#101010" stroke-width="0.7" stroke-linejoin="round"/>
<polygon points="174.75,597.96 181.8,597.96 181.8,610.5 174.75,610.5" fill="#f6f020" stroke="#101010" stroke-width="0.7" stroke-linejoin="round"/>
<line x1="151.5" y1="603.5" x2="151.5" y2="606.74" stroke="#1a1a1a" stroke-width="0.9"/>
<line x1="148.9" y1="603.5" x2="154.1" y2="603.5" stroke="#1a1a1a" stroke-width="1.17"/>
<line x1="158.5" y1="530.5" x2="158.5" y2="542.75" stroke="#1a1a1a" stroke-width="0.9"/>
<line x1="155.9" y1="530.5" x2="161.1" y2="530.5" stroke="#1a1a1a" stroke-width="1.17"/>
<line x1="165.5" y1="581.5" x2="165.5" y2="587.39" stroke="#1a1a1a" stroke-width="0.9"/>
<line x1="162.9" y1="581.5" x2="168.1" y2="581.5" stroke="#1a1a1a" stroke-width="1.17"/>
<line x1="172.5" y1="599.5" x2="172.5" y2="603.68" stroke="#1a1a1a" stroke-width="0.9"/>
<line x1="169.9" y1="599.5" x2="175.1" y2="599.5" stroke="#1a1a1a" stroke-width="1.17"/>
<line x1="179.5" y1="588.5" x2="179.5" y2="597.36" stroke="#1a1a1a" stroke-width="0.9"/>
<line x1="176.9" y1="588.5" x2="182.1" y2="588.5" stroke="#1a1a1a" stroke-width="1.17"/>
<polygon points="200.6,607.34 203.4,605.54 203.4,608.7 200.6,610.5" fill="#000000" stroke="#101010" stroke-width="0.7" stroke-linejoin="round"/>
<polygon points="193.55,607.34 196.35,605.54 203.4,605.54 200.6,607.34" fill="#111111" stroke="#101010" stroke-width="0.7" stroke-linejoin="round"/>
<polygon points="193.55,607.34 200.6,607.34 200.6,610.5 193.55,610.5" fill="#0a0a0a" stroke="#101010" stroke-width="0.7" stroke-linejoin="round"/>
<polygon points="207.65,521.22 210.45,519.42 210.45,608.7 207.65,610.5" fill="#1d5a28" stroke="#101010" stroke-width="0.7" stroke-linejoin="round"/>
<polygon points="200.6,521.22 203.4,519.42 210.45,519.42 207.65,521.22" fill="#247030" stroke="#101010" stroke-width="0.7" stroke-linejoin="round"/>
<polygon points="200.6,521.22 207.65,521.22 207.65,610.5 200.6,610.5" fill="#3cb44e" stroke="#101010" stroke-width="0.7" stroke-linejoin="round"/>
<polygon points="214.7,444.39 217.5,442.59 217.5,608.7 214.7,610.5" fill="#800c28" stroke="#101010" stroke-width="0.7" stroke-linejoin="round"/>
<polygon points="207.65,444.39 210.45,442.59 217.5,442.59 214.7,444.39" fill="#c0103a" stroke="#101010" stroke-width="0.7" stroke-linejoin="round"/>
<polygon points="207.65,444.39 214.7,444.39 214.7,610.5 207.65,610.5" fill="#f81249" stroke="#101010" stroke-width="0.7" stroke-linejoin="round"/>
<polygon points="221.75,520.24 224.55,518.44 224.55,608.7 221.75,610.5" fill="#1830bc" stroke="#101010" stroke-width="0.7" stroke-linejoin="round"/>
<polygon points="214.7,520.24 217.5,518.44 224.55,518.44 221.75,520.24" fill="#1a3ad0" stroke="#101010" stroke-width="0.7" stroke-linejoin="round"/>
<polygon points="214.7,520.24 221.75,520.24 221.75,610.5 214.7,610.5" fill="#1f48f8" stroke="#101010" stroke-width="0.7" stroke-linejoin="round"/>
<polygon points="228.8,539.2 231.6,537.4 231.6,608.7 228.8,610.5" fill="#9d9c3c" stroke="#101010" stroke-width="0.7" stroke-linejoin="round"/>
<polygon points="221.75,539.2 224.55,537.4 231.6,537.4 228.8,539.2" fill="#c8c42a" stroke="#101010" stroke-width="0.7" stroke-linejoin="round"/>
<polygon points="221.75,539.2 228.8,539.2 228.8,610.5 221.75,610.5" fill="#f6f020" stroke="#101010" stroke-width="0.7" stroke-linejoin="round"/>
<line x1="205.5" y1="502.5" x2="205.5" y2="520.62" stroke="#1a1a1a" stroke-width="0.9"/>
<line x1="202.9" y1="502.5" x2="208.1" y2="502.5" stroke="#1a1a1a" stroke-width="1.17"/>
<line x1="212.5" y1="372.5" x2="212.5" y2="443.79" stroke="#1a1a1a" stroke-width="0.9"/>
<line x1="209.9" y1="372.5" x2="215.1" y2="372.5" stroke="#1a1a1a" stroke-width="1.17"/>
<line x1="219.5" y1="484.5" x2="219.5" y2="519.64" stroke="#1a1a1a" stroke-width="0.9"/>
<line x1="216.9" y1="484.5" x2="222.1" y2="484.5" stroke="#1a1a1a" stroke-width="1.17"/>
<line x1="226.5" y1="479.5" x2="226.5" y2="538.6" stroke="#1a1a1a" stroke-width="0.9"/>
<line x1="223.9" y1="479.5" x2="229.1" y2="479.5" stroke="#1a1a1a" stroke-width="1.17"/>
<polygon points="247.3,607.34 250.1,605.54 250.1,608.7 247.3,610.5" fill="#000000" stroke="#101010" stroke-width="0.7" stroke-linejoin="round"/>
<polygon points="240.25,607.34 243.05,605.54 250.1,605.54 247.3,607.34" fill="#111111" stroke="#101010" stroke-width="0.7" stroke-linejoin="round"/>
<polygon points="240.25,607.34 247.3,607.34 247.3,610.5 240.25,610.5" fill="#0a0a0a" stroke="#101010" stroke-width="0.7" stroke-linejoin="round"/>
<polygon points="254.35,543.25 257.15,541.45 257.15,608.7 254.35,610.5" fill="#1d5a28" stroke="#101010" stroke-width="0.7" stroke-linejoin="round"/>
<polygon points="247.3,543.25 250.1,541.45 257.15,541.45 254.35,543.25" fill="#247030" stroke="#101010" stroke-width="0.7" stroke-linejoin="round"/>
<polygon points="247.3,543.25 254.35,543.25 254.35,610.5 247.3,610.5" fill="#3cb44e" stroke="#101010" stroke-width="0.7" stroke-linejoin="round"/>
<polygon points="261.4,598.95 264.2,597.15 264.2,608.7 261.4,610.5" fill="#800c28" stroke="#101010" stroke-width="0.7" stroke-linejoin="round"/>
<polygon points="254.35,598.95 257.15,597.15 264.2,597.15 261.4,598.95" fill="#c0103a" stroke="#101010" stroke-width="0.7" stroke-linejoin="round"/>
<polygon points="254.35,598.95 261.4,598.95 261.4,610.5 254.35,610.5" fill="#f81249" stroke="#101010" stroke-width="0.7" stroke-linejoin="round"/>
<polygon points="268.45,598.26 271.25,596.46 271.25,608.7 268.45,610.5" fill="#1830bc" stroke="#101010" stroke-width="0.7" stroke-linejoin="round"/>
<polygon points="261.4,598.26 264.2,596.46 271.25,596.46 268.45,598.26" fill="#1a3ad0" stroke="#101010" stroke-width="0.7" stroke-linejoin="round"/>
<polygon points="261.4,598.26 268.45,598.26 268.45,610.5 261.4,610.5" fill="#1f48f8" stroke="#101010" stroke-width="0.7" stroke-linejoin="round"/>
<polygon points="275.5,605.96 278.3,604.16 278.3,608.7 275.5,610.5" fill="#9d9c3c" stroke="#101010" stroke-width="0.7" stroke-linejoin="round"/>
<polygon points="268.45,605.96 271.25,604.16 278.3,604.16 275.5,605.96" fill="#c8c42a" stroke="#101010" stroke-width="0.7" stroke-linejoin="round"/>
<polygon points="268.45,605.96 275.5,605.96 275.5,610.5 268.45,610.5" fill="#f6f020" stroke="#101010" stroke-width="0.7" stroke-linejoin="round"/>
<line x1="252.5" y1="531.5" x2="252.5" y2="542.65" stroke="#1a1a1a" stroke-width="0.9"/>
<line x1="249.9" y1="531.5" x2="255.1" y2="531.5" stroke="#1a1a1a" stroke-width="1.17"/>
<line x1="259.5" y1="593.5" x2="259.5" y2="598.35" stroke="#1a1a1a" stroke-width="0.9"/>
<line x1="256.9" y1="593.5" x2="262.1" y2="593.5" stroke="#1a1a1a" stroke-width="1.17"/>
<line x1="266.5" y1="594.5" x2="266.5" y2="597.66" stroke="#1a1a1a" stroke-width="0.9"/>
<line x1="263.9" y1="594.5" x2="269.1" y2="594.5" stroke="#1a1a1a" stroke-width="1.17"/>
<polygon points="294,607.34 296.8,605.54 296.8,608.7 294,610.5" fill="#000000" stroke="#101010" stroke-width="0.7" stroke-linejoin="round"/>
<polygon points="286.95,607.34 289.75,605.54 296.8,605.54 294,607.34" fill="#111111" stroke="#101010" stroke-width="0.7" stroke-linejoin="round"/>
<polygon points="286.95,607.34 294,607.34 294,610.5 286.95,610.5" fill="#0a0a0a" stroke="#101010" stroke-width="0.7" stroke-linejoin="round"/>
<polygon points="301.05,564.88 303.85,563.08 303.85,608.7 301.05,610.5" fill="#1d5a28" stroke="#101010" stroke-width="0.7" stroke-linejoin="round"/>
<polygon points="294,564.88 296.8,563.08 303.85,563.08 301.05,564.88" fill="#247030" stroke="#101010" stroke-width="0.7" stroke-linejoin="round"/>
<polygon points="294,564.88 301.05,564.88 301.05,610.5 294,610.5" fill="#3cb44e" stroke="#101010" stroke-width="0.7" stroke-linejoin="round"/>
<polygon points="308.1,382.76 310.9,380.96 310.9,608.7 308.1,610.5" fill="#800c28" stroke="#101010" stroke-width="0.7" stroke-linejoin="round"/>
<polygon points="301.05,382.76 303.85,380.96 310.9,380.96 308.1,382.76" fill="#c0103a" stroke="#101010" stroke-width="0.7" stroke-linejoin="round"/>
<polygon points="301.05,382.76 308.1,382.76 308.1,610.5 301.05,610.5" fill="#f81249" stroke="#101010" stroke-width="0.7" stroke-linejoin="round"/>
<polygon points="322.2,513.03 325,511.23 325,608.7 322.2,610.5" fill="#9d9c3c" stroke="#101010" stroke-width="0.7" stroke-linejoin="round"/>
<polygon points="315.15,513.03 317.95,511.23 325,511.23 322.2,513.03" fill="#c8c42a" stroke="#101010" stroke-width="0.7" stroke-linejoin="round"/>
<polygon points="315.15,513.03 322.2,513.03 322.2,610.5 315.15,610.5" fill="#f6f020" stroke="#101010" stroke-width="0.7" stroke-linejoin="round"/>
<line x1="298.5" y1="551.5" x2="298.5" y2="564.28" stroke="#1a1a1a" stroke-width="0.9"/>
<line x1="295.9" y1="551.5" x2="301.1" y2="551.5" stroke="#1a1a1a" stroke-width="1.17"/>
<rect x="301.45" y="383.16" width="6.25" height="40.99" fill="#000" fill-opacity="0.2"/>
<line x1="305.5" y1="365.5" x2="305.5" y2="382.16" stroke="#1a1a1a" stroke-width="0.9"/>
<line x1="305.5" y1="382.16" x2="305.5" y2="423.5" stroke="#000" stroke-opacity="0.55" stroke-width="0.9"/>
<line x1="302.9" y1="423.5" x2="308.1" y2="423.5" stroke="#000" stroke-opacity="0.6" stroke-width="1.17"/>
<line x1="302.9" y1="365.5" x2="308.1" y2="365.5" stroke="#1a1a1a" stroke-width="1.17"/>
<line x1="320.5" y1="393.5" x2="320.5" y2="512.43" stroke="#1a1a1a" stroke-width="0.9"/>
<line x1="317.9" y1="393.5" x2="323.1" y2="393.5" stroke="#1a1a1a" stroke-width="1.17"/>
<polygon points="341.9,607.34 344.7,605.54 344.7,608.7 341.9,610.5" fill="#000000" stroke="#101010" stroke-width="0.7" stroke-linejoin="round"/>
<polygon points="334.85,607.34 337.65,605.54 344.7,605.54 341.9,607.34" fill="#111111" stroke="#101010" stroke-width="0.7" stroke-linejoin="round"/>
<polygon points="334.85,607.34 341.9,607.34 341.9,610.5 334.85,610.5" fill="#0a0a0a" stroke="#101010" stroke-width="0.7" stroke-linejoin="round"/>
<polygon points="348.95,556.28 351.75,554.48 351.75,608.7 348.95,610.5" fill="#1d5a28" stroke="#101010" stroke-width="0.7" stroke-linejoin="round"/>
<polygon points="341.9,556.28 344.7,554.48 351.75,554.48 348.95,556.28" fill="#247030" stroke="#101010" stroke-width="0.7" stroke-linejoin="round"/>
<polygon points="341.9,556.28 348.95,556.28 348.95,610.5 341.9,610.5" fill="#3cb44e" stroke="#101010" stroke-width="0.7" stroke-linejoin="round"/>
<polygon points="356,453.77 358.8,451.97 358.8,608.7 356,610.5" fill="#800c28" stroke="#101010" stroke-width="0.7" stroke-linejoin="round"/>
<polygon points="348.95,453.77 351.75,451.97 358.8,451.97 356,453.77" fill="#c0103a" stroke="#101010" stroke-width="0.7" stroke-linejoin="round"/>
<polygon points="348.95,453.77 356,453.77 356,610.5 348.95,610.5" fill="#f81249" stroke="#101010" stroke-width="0.7" stroke-linejoin="round"/>
<polygon points="363.05,501.37 365.85,499.57 365.85,608.7 363.05,610.5" fill="#1830bc" stroke="#101010" stroke-width="0.7" stroke-linejoin="round"/>
<polygon points="356,501.37 358.8,499.57 365.85,499.57 363.05,501.37" fill="#1a3ad0" stroke="#101010" stroke-width="0.7" stroke-linejoin="round"/>
<polygon points="356,501.37 363.05,501.37 363.05,610.5 356,610.5" fill="#1f48f8" stroke="#101010" stroke-width="0.7" stroke-linejoin="round"/>
<polygon points="370.1,472.83 372.9,471.03 372.9,608.7 370.1,610.5" fill="#9d9c3c" stroke="#101010" stroke-width="0.7" stroke-linejoin="round"/>
<polygon points="363.05,472.83 365.85,471.03 372.9,471.03 370.1,472.83" fill="#c8c42a" stroke="#101010" stroke-width="0.7" stroke-linejoin="round"/>
<polygon points="363.05,472.83 370.1,472.83 370.1,610.5 363.05,610.5" fill="#f6f020" stroke="#101010" stroke-width="0.7" stroke-linejoin="round"/>
<line x1="346.5" y1="544.5" x2="346.5" y2="555.68" stroke="#1a1a1a" stroke-width="0.9"/>
<line x1="343.9" y1="544.5" x2="349.1" y2="544.5" stroke="#1a1a1a" stroke-width="1.17"/>
<line x1="360.5" y1="421.5" x2="360.5" y2="500.77" stroke="#1a1a1a" stroke-width="0.9"/>
<line x1="357.9" y1="421.5" x2="363.1" y2="421.5" stroke="#1a1a1a" stroke-width="1.17"/>
<line x1="367.5" y1="404.5" x2="367.5" y2="472.23" stroke="#1a1a1a" stroke-width="0.9"/>
<line x1="364.9" y1="404.5" x2="370.1" y2="404.5" stroke="#1a1a1a" stroke-width="1.17"/>
<polygon points="389.5,607.34 392.3,605.54 392.3,608.7 389.5,610.5" fill="#000000" stroke="#101010" stroke-width="0.7" stroke-linejoin="round"/>
<polygon points="382.45,607.34 385.25,605.54 392.3,605.54 389.5,607.34" fill="#111111" stroke="#101010" stroke-width="0.7" stroke-linejoin="round"/>
<polygon points="382.45,607.34 389.5,607.34 389.5,610.5 382.45,610.5" fill="#0a0a0a" stroke="#101010" stroke-width="0.7" stroke-linejoin="round"/>
<polygon points="396.55,581.47 399.35,579.67 399.35,608.7 396.55,610.5" fill="#1d5a28" stroke="#101010" stroke-width="0.7" stroke-linejoin="round"/>
<polygon points="389.5,581.47 392.3,579.67 399.35,579.67 396.55,581.47" fill="#247030" stroke="#101010" stroke-width="0.7" stroke-linejoin="round"/>
<polygon points="389.5,581.47 396.55,581.47 396.55,610.5 389.5,610.5" fill="#3cb44e" stroke="#101010" stroke-width="0.7" stroke-linejoin="round"/>
<polygon points="403.6,564.78 406.4,562.98 406.4,608.7 403.6,610.5" fill="#800c28" stroke="#101010" stroke-width="0.7" stroke-linejoin="round"/>
<polygon points="396.55,564.78 399.35,562.98 406.4,562.98 403.6,564.78" fill="#c0103a" stroke="#101010" stroke-width="0.7" stroke-linejoin="round"/>
<polygon points="396.55,564.78 403.6,564.78 403.6,610.5 396.55,610.5" fill="#f81249" stroke="#101010" stroke-width="0.7" stroke-linejoin="round"/>
<polygon points="410.65,587.1 413.45,585.3 413.45,608.7 410.65,610.5" fill="#1830bc" stroke="#101010" stroke-width="0.7" stroke-linejoin="round"/>
<polygon points="403.6,587.1 406.4,585.3 413.45,585.3 410.65,587.1" fill="#1a3ad0" stroke="#101010" stroke-width="0.7" stroke-linejoin="round"/>
<polygon points="403.6,587.1 410.65,587.1 410.65,610.5 403.6,610.5" fill="#1f48f8" stroke="#101010" stroke-width="0.7" stroke-linejoin="round"/>
<polygon points="417.7,589.07 420.5,587.27 420.5,608.7 417.7,610.5" fill="#9d9c3c" stroke="#101010" stroke-width="0.7" stroke-linejoin="round"/>
<polygon points="410.65,589.07 413.45,587.27 420.5,587.27 417.7,589.07" fill="#c8c42a" stroke="#101010" stroke-width="0.7" stroke-linejoin="round"/>
<polygon points="410.65,589.07 417.7,589.07 417.7,610.5 410.65,610.5" fill="#f6f020" stroke="#101010" stroke-width="0.7" stroke-linejoin="round"/>
<line x1="394.5" y1="576.5" x2="394.5" y2="580.87" stroke="#1a1a1a" stroke-width="0.9"/>
<line x1="391.9" y1="576.5" x2="397.1" y2="576.5" stroke="#1a1a1a" stroke-width="1.17"/>
<line x1="401.5" y1="543.5" x2="401.5" y2="564.18" stroke="#1a1a1a" stroke-width="0.9"/>
<line x1="398.9" y1="543.5" x2="404.1" y2="543.5" stroke="#1a1a1a" stroke-width="1.17"/>
<line x1="415.5" y1="563.5" x2="415.5" y2="588.47" stroke="#1a1a1a" stroke-width="0.9"/>
<line x1="412.9" y1="563.5" x2="418.1" y2="563.5" stroke="#1a1a1a" stroke-width="1.17"/>
<text x="310.4" y="620.1" font-size="7.6" font-weight="bold" fill="#000" textLength="11" lengthAdjust="spacingAndGlyphs">ND</text>
<text x="126" y="631.8" font-size="13.83" font-weight="bold" fill="#000" text-anchor="end" transform="rotate(-50 126 631.8)">heart</text>
<text x="172.7" y="631.9" font-size="13.94" font-weight="bold" fill="#000" text-anchor="end" transform="rotate(-50 172.7 631.9)">liver</text>
<text x="220.1" y="628.4" font-size="14.25" font-weight="bold" fill="#000" text-anchor="end" transform="rotate(-50 220.1 628.4)">spleen</text>
<text x="270.2" y="631" font-size="14.55" font-weight="bold" fill="#000" text-anchor="end" transform="rotate(-50 270.2 631)">kidney</text>
<text x="316.9" y="631.3" font-size="13.69" font-weight="bold" fill="#000" text-anchor="end" transform="rotate(-50 316.9 631.3)">BM</text>
<text x="361" y="634.4" font-size="14.24" font-weight="bold" fill="#000" text-anchor="end" transform="rotate(-50 361 634.4)">thymus</text>
<text x="404.7" y="632.6" font-size="14.21" font-weight="bold" fill="#000" text-anchor="end" transform="rotate(-50 404.7 632.6)">lungs</text>
<rect x="431.9" y="459.7" width="54.4" height="111.3" fill="#ffffff" stroke="#111" stroke-width="1.1"/>
<rect x="436.9" y="467.9" width="9.5" height="8.8" fill="#0a0a0a" stroke="#111" stroke-width="0.9"/>
<text x="451.2" y="477.2" font-size="14.3" font-weight="bold" fill="#000" textLength="31.2" lengthAdjust="spacingAndGlyphs">GFP</text>
<rect x="436.9" y="489.87" width="9.5" height="8.8" fill="#3cb44e" stroke="#111" stroke-width="0.9"/>
<text x="451.2" y="499.17" font-size="14.3" font-weight="bold" fill="#000" textLength="23" lengthAdjust="spacingAndGlyphs">WT</text>
<rect x="436.9" y="511.84" width="9.5" height="8.8" fill="#f81249" stroke="#111" stroke-width="0.9"/>
<text x="451.2" y="521.14" font-size="14.3" font-weight="bold" fill="#000" textLength="30" lengthAdjust="spacingAndGlyphs">1mo</text>
<rect x="436.9" y="533.81" width="9.5" height="8.8" fill="#1f48f8" stroke="#111" stroke-width="0.9"/>
<text x="451.2" y="543.11" font-size="14.3" font-weight="bold" fill="#000" textLength="30.6" lengthAdjust="spacingAndGlyphs">3mo</text>
<rect x="436.9" y="555.78" width="9.5" height="8.8" fill="#f6f020" stroke="#111" stroke-width="0.9"/>
<text x="451.2" y="565.08" font-size="14.3" font-weight="bold" fill="#000" textLength="20" lengthAdjust="spacingAndGlyphs">LT</text>
<rect x="372.6" y="362.3" width="129.7" height="91.9" fill="#ffffff" stroke="#111" stroke-width="1.1"/>
<rect x="396.8" y="367" width="93" height="74.8" fill="#ffffff" stroke="#111" stroke-width="1.05"/>
<polygon points="393.3,368.5 396.8,367 396.8,441.8 393.3,443.3" fill="#ffffff" stroke="#111" stroke-width="0.7" stroke-linejoin="round"/>
<line x1="396.8" y1="441.5" x2="489.8" y2="441.5" stroke="#111" stroke-width="1.05"/>
<line x1="393.3" y1="443.3" x2="396.8" y2="441.8" stroke="#111" stroke-width="0.7"/>
<line x1="390.8" y1="443.3" x2="393.3" y2="443.3" stroke="#111" stroke-width="1"/>
<text x="390.6" y="446" font-size="7.5" font-weight="bold" fill="#000" text-anchor="end" textLength="4.2" lengthAdjust="spacingAndGlyphs">0</text>
<line x1="396.8" y1="426.5" x2="489.8" y2="426.5" stroke="#111" stroke-width="1.05"/>
<line x1="393.3" y1="428.34" x2="396.8" y2="426.84" stroke="#111" stroke-width="0.7"/>
<line x1="390.8" y1="428.34" x2="393.3" y2="428.34" stroke="#111" stroke-width="1"/>
<text x="390.6" y="431.04" font-size="7.5" font-weight="bold" fill="#000" text-anchor="end" textLength="4.2" lengthAdjust="spacingAndGlyphs">2</text>
<line x1="396.8" y1="411.5" x2="489.8" y2="411.5" stroke="#111" stroke-width="1.05"/>
<line x1="393.3" y1="413.38" x2="396.8" y2="411.88" stroke="#111" stroke-width="0.7"/>
<line x1="390.8" y1="413.38" x2="393.3" y2="413.38" stroke="#111" stroke-width="1"/>
<text x="390.6" y="416.08" font-size="7.5" font-weight="bold" fill="#000" text-anchor="end" textLength="4.2" lengthAdjust="spacingAndGlyphs">4</text>
<line x1="396.8" y1="396.5" x2="489.8" y2="396.5" stroke="#111" stroke-width="1.05"/>
<line x1="393.3" y1="398.42" x2="396.8" y2="396.92" stroke="#111" stroke-width="0.7"/>
<line x1="390.8" y1="398.42" x2="393.3" y2="398.42" stroke="#111" stroke-width="1"/>
<text x="390.6" y="401.12" font-size="7.5" font-weight="bold" fill="#000" text-anchor="end" textLength="4.2" lengthAdjust="spacingAndGlyphs">6</text>
<line x1="396.8" y1="381.5" x2="489.8" y2="381.5" stroke="#111" stroke-width="1.05"/>
<line x1="393.3" y1="383.46" x2="396.8" y2="381.96" stroke="#111" stroke-width="0.7"/>
<line x1="390.8" y1="383.46" x2="393.3" y2="383.46" stroke="#111" stroke-width="1"/>
<text x="390.6" y="386.16" font-size="7.5" font-weight="bold" fill="#000" text-anchor="end" textLength="4.2" lengthAdjust="spacingAndGlyphs">8</text>
<line x1="396.8" y1="367.5" x2="489.8" y2="367.5" stroke="#111" stroke-width="1.05"/>
<line x1="393.3" y1="368.5" x2="396.8" y2="367" stroke="#111" stroke-width="0.7"/>
<line x1="390.8" y1="368.5" x2="393.3" y2="368.5" stroke="#111" stroke-width="1"/>
<text x="390.6" y="371.2" font-size="7.5" font-weight="bold" fill="#000" text-anchor="end" textLength="8.4" lengthAdjust="spacingAndGlyphs">10</text>
<polygon points="393.3,443.3 396.8,441.8 489.8,441.8 486.3,443.3" fill="#9a9a9a" stroke="#222" stroke-width="0.7" stroke-linejoin="round"/>
<line x1="393.3" y1="368.5" x2="393.3" y2="443.3" stroke="#111" stroke-width="1.1"/>
<line x1="393.3" y1="443.3" x2="486.3" y2="443.3" stroke="#111" stroke-width="1.1"/>
<line x1="393.3" y1="443.3" x2="393.3" y2="446.3" stroke="#111" stroke-width="1"/>
<line x1="411.9" y1="443.3" x2="411.9" y2="446.3" stroke="#111" stroke-width="1"/>
<line x1="430.5" y1="443.3" x2="430.5" y2="446.3" stroke="#111" stroke-width="1"/>
<line x1="449.1" y1="443.3" x2="449.1" y2="446.3" stroke="#111" stroke-width="1"/>
<line x1="467.7" y1="443.3" x2="467.7" y2="446.3" stroke="#111" stroke-width="1"/>
<line x1="486.3" y1="443.3" x2="486.3" y2="446.3" stroke="#111" stroke-width="1"/>
<polygon points="407.8,442.18 410.4,440.68 410.4,441.8 407.8,443.3" fill="#1d5a28" stroke="#101010" stroke-width="0.7" stroke-linejoin="round"/>
<polygon points="400,442.18 402.6,440.68 410.4,440.68 407.8,442.18" fill="#247030" stroke="#101010" stroke-width="0.7" stroke-linejoin="round"/>
<polygon points="400,442.18 407.8,442.18 407.8,443.3 400,443.3" fill="#3cb44e" stroke="#101010" stroke-width="0.7" stroke-linejoin="round"/>
<polygon points="426.15,382.71 428.75,381.21 428.75,441.8 426.15,443.3" fill="#1d5a28" stroke="#101010" stroke-width="0.7" stroke-linejoin="round"/>
<polygon points="418.35,382.71 420.95,381.21 428.75,381.21 426.15,382.71" fill="#247030" stroke="#101010" stroke-width="0.7" stroke-linejoin="round"/>
<polygon points="418.35,382.71 426.15,382.71 426.15,443.3 418.35,443.3" fill="#3cb44e" stroke="#101010" stroke-width="0.7" stroke-linejoin="round"/>
<rect x="418.75" y="383.11" width="7" height="28.77" fill="#000" fill-opacity="0.12"/>
<line x1="423.5" y1="367.5" x2="423.5" y2="381.91" stroke="#1a1a1a" stroke-width="0.9"/>
<line x1="423.5" y1="381.91" x2="423.5" y2="411.5" stroke="#000" stroke-opacity="0.55" stroke-width="0.9"/>
<line x1="420.7" y1="411.5" x2="426.3" y2="411.5" stroke="#000" stroke-opacity="0.6" stroke-width="1.17"/>
<line x1="420.7" y1="367.5" x2="426.3" y2="367.5" stroke="#1a1a1a" stroke-width="1.17"/>
<polygon points="444.5,441.06 447.1,439.56 447.1,441.8 444.5,443.3" fill="#1d5a28" stroke="#101010" stroke-width="0.7" stroke-linejoin="round"/>
<polygon points="436.7,441.06 439.3,439.56 447.1,439.56 444.5,441.06" fill="#247030" stroke="#101010" stroke-width="0.7" stroke-linejoin="round"/>
<polygon points="436.7,441.06 444.5,441.06 444.5,443.3 436.7,443.3" fill="#3cb44e" stroke="#101010" stroke-width="0.7" stroke-linejoin="round"/>
<line x1="441.5" y1="435.5" x2="441.5" y2="440.26" stroke="#1a1a1a" stroke-width="0.9"/>
<line x1="438.7" y1="435.5" x2="444.3" y2="435.5" stroke="#1a1a1a" stroke-width="1.17"/>
<polygon points="462.85,426.1 465.45,424.6 465.45,441.8 462.85,443.3" fill="#1d5a28" stroke="#101010" stroke-width="0.7" stroke-linejoin="round"/>
<polygon points="455.05,426.1 457.65,424.6 465.45,424.6 462.85,426.1" fill="#247030" stroke="#101010" stroke-width="0.7" stroke-linejoin="round"/>
<polygon points="455.05,426.1 462.85,426.1 462.85,443.3 455.05,443.3" fill="#3cb44e" stroke="#101010" stroke-width="0.7" stroke-linejoin="round"/>
<line x1="460.5" y1="419.5" x2="460.5" y2="425.3" stroke="#1a1a1a" stroke-width="0.9"/>
<line x1="457.7" y1="419.5" x2="463.3" y2="419.5" stroke="#1a1a1a" stroke-width="1.17"/>
<polygon points="481.2,433.8 483.8,432.3 483.8,441.8 481.2,443.3" fill="#1d5a28" stroke="#101010" stroke-width="0.7" stroke-linejoin="round"/>
<polygon points="473.4,433.8 476,432.3 483.8,432.3 481.2,433.8" fill="#247030" stroke="#101010" stroke-width="0.7" stroke-linejoin="round"/>
<polygon points="473.4,433.8 481.2,433.8 481.2,443.3 473.4,443.3" fill="#3cb44e" stroke="#101010" stroke-width="0.7" stroke-linejoin="round"/>
<line x1="478.5" y1="426.5" x2="478.5" y2="433" stroke="#1a1a1a" stroke-width="0.9"/>
<line x1="475.7" y1="426.5" x2="481.3" y2="426.5" stroke="#1a1a1a" stroke-width="1.17"/>
<text x="397.7" y="452.6" font-size="6.3" font-weight="bold" fill="#000" style="stroke-width:0.1px" textLength="11.7" lengthAdjust="spacingAndGlyphs">GFP</text>
<text x="416.9" y="452.6" font-size="6.3" font-weight="bold" fill="#000" style="stroke-width:0.1px" textLength="8.9" lengthAdjust="spacingAndGlyphs">WT</text>
<text x="435.2" y="452.6" font-size="6.3" font-weight="bold" fill="#000" style="stroke-width:0.1px" textLength="11.7" lengthAdjust="spacingAndGlyphs">1mo</text>
<text x="453.5" y="452.6" font-size="6.3" font-weight="bold" fill="#000" style="stroke-width:0.1px" textLength="11.7" lengthAdjust="spacingAndGlyphs">3mo</text>
<text x="474" y="452.6" font-size="6.3" font-weight="bold" fill="#000" style="stroke-width:0.1px" textLength="7.2" lengthAdjust="spacingAndGlyphs">LT</text>
<text x="382.2" y="438" font-size="10" font-weight="bold" fill="#000" textLength="71" lengthAdjust="spacingAndGlyphs" transform="rotate(-90 382.2 438)">(nmol/min/mg)</text>
<rect x="438.5" y="373.8" width="42.3" height="23.9" fill="#ffffff" stroke="#111" stroke-width="1"/>
<rect x="442.5" y="383.2" width="6.3" height="6.3" fill="#3cb44e" stroke="#111" stroke-width="0.7"/>
<text x="452.2" y="390" font-size="11.3" font-weight="bold" fill="#000" textLength="26.6" lengthAdjust="spacingAndGlyphs">brain</text>
</svg>
</body></html>
